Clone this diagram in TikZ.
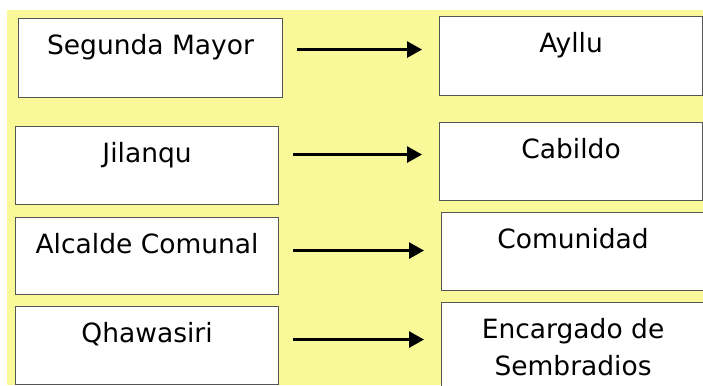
\documentclass[tikz,border=0pt]{standalone}
\usepackage{fontspec}
\setmainfont{DejaVu Sans}
\usetikzlibrary{arrows.meta}
\definecolor{paleyellow}{RGB}{249,249,153}
\definecolor{boxline}{RGB}{85,85,85}
\tikzset{
  box/.style={draw=boxline, line width=1.1pt, fill=white, anchor=north west,
    inner sep=0pt, minimum width=263pt, text height=36pt, align=center,
    font=\fontsize{26.5}{37}\selectfont},
  arr/.style={-{Triangle[length=15pt,width=16pt]}, line width=2.8pt,
    shorten <=14pt, shorten >=17pt}
}
\begin{document}
\begin{tikzpicture}[x=1pt,y=-1pt]
      \useasboundingbox (0,0) rectangle (703,385);
      \fill[paleyellow] (7,10) rectangle (703,385);
      \begin{scope}
        \clip (0,0) rectangle (703,385);
        \path
          (18,18) node[box, minimum width=264pt, text depth=43pt] (segunda){Segunda Mayor}
          (15,126) node[box, text depth=42pt] (jilanqu){Jilanqu}
          (15,217) node[box, text depth=41pt] (alcalde){Alcalde Comunal}
          (15,306) node[box, text depth=42pt] (qhawasiri){Qhawasiri}
          (439,16) node[box, text depth=43pt] (ayllu){Ayllu}
          (439,122) node[box, text depth=42pt] (cabildo){Cabildo}
          (441,212) node[box, text depth=42pt] (comunidad){Comunidad}
          (441,302) node[box, text height=73pt, text depth=30pt] (encargado){Encargado de\\Sembradios};
      \end{scope}
      \begin{scope}[arr]
        \draw ([yshift=5pt]segunda.base east) -- ([yshift=5pt]segunda.base east -| ayllu.west);
        \draw ([yshift=8pt]jilanqu.base east) -- ([yshift=8pt]jilanqu.base east -| cabildo.west);
        \draw ([yshift=3pt]alcalde.base east) -- ([yshift=3pt]alcalde.base east -| comunidad.west);
        \draw ([yshift=3pt]qhawasiri.base east) -- ([yshift=3pt]qhawasiri.base east -| encargado.west);
      \end{scope}
    \end{tikzpicture}
\end{document}
